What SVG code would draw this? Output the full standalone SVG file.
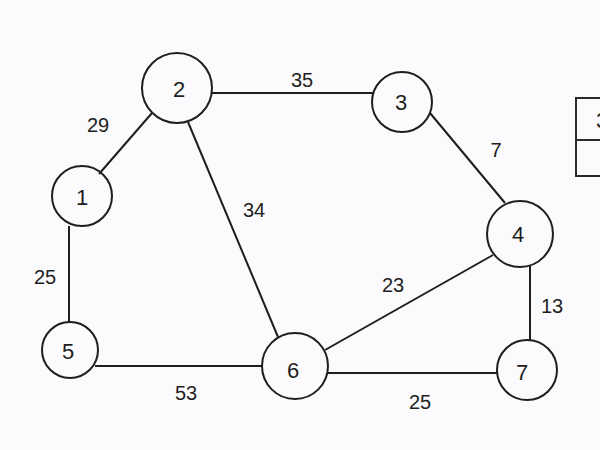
<svg xmlns="http://www.w3.org/2000/svg" width="600" height="450" viewBox="0 0 600 450">
<style>
.n{fill:none;stroke:#1e1e1e;stroke-width:2}
.e{stroke:#1e1e1e;stroke-width:2;fill:none}
.t{font-family:"Liberation Sans",Arial,sans-serif;font-size:22px;fill:#1e1e1e;text-anchor:middle;dominant-baseline:central}
.w{font-family:"Liberation Sans",Arial,sans-serif;font-size:20px;fill:#1e1e1e;text-anchor:middle;dominant-baseline:central}
</style>
<rect width="600" height="450" fill="#fbfbfd"/>
<g id="connectors">
<line class="e" x1="99" y1="174" x2="152" y2="113"/>
<line class="e" x1="212" y1="93" x2="373" y2="93"/>
<line class="e" x1="188" y1="122" x2="278" y2="337"/>
<line class="e" x1="430" y1="113" x2="505" y2="203"/>
<line class="e" x1="493" y1="255" x2="325" y2="350"/>
<line class="e" x1="530" y1="266" x2="530" y2="341"/>
<line class="e" x1="69" y1="226" x2="69" y2="322"/>
<line class="e" x1="95" y1="366" x2="262" y2="366"/>
<line class="e" x1="328" y1="373" x2="497" y2="373"/>
</g>
<g id="edge-labels">
<text class="w" x="98" y="125">29</text>
<text class="w" x="302" y="80">35</text>
<text class="w" x="496" y="150">7</text>
<text class="w" x="254" y="210">34</text>
<text class="w" x="45" y="277">25</text>
<text class="w" x="393" y="285">23</text>
<text class="w" x="552" y="306">13</text>
<text class="w" x="186" y="393">53</text>
<text class="w" x="420" y="402">25</text>
</g>
<g id="node1"><circle class="n" cx="82" cy="196" r="30"/><text class="t" x="82" y="197">1</text></g>
<g id="node2"><circle class="n" cx="177" cy="88" r="35"/><text class="t" x="179" y="89">2</text></g>
<g id="node3"><circle class="n" cx="402" cy="102" r="30"/><text class="t" x="401" y="102">3</text></g>
<g id="node4"><circle class="n" cx="520" cy="234" r="33"/><text class="t" x="518" y="234">4</text></g>
<g id="node5"><circle class="n" cx="70" cy="350" r="28"/><text class="t" x="68" y="351">5</text></g>
<g id="node6"><circle class="n" cx="295" cy="366" r="33"/><text class="t" x="293" y="370">6</text></g>
<g id="node7"><circle class="n" cx="527" cy="370" r="30"/><text class="t" x="522" y="372">7</text></g>
<g id="table">
<rect x="576" y="98" width="40" height="78" fill="none" stroke="#2a2a2a" stroke-width="2"/>
<line x1="576" y1="140" x2="600" y2="140" stroke="#2a2a2a" stroke-width="2"/>
<text class="t" x="602" y="120">3</text>
</g>
</svg>
